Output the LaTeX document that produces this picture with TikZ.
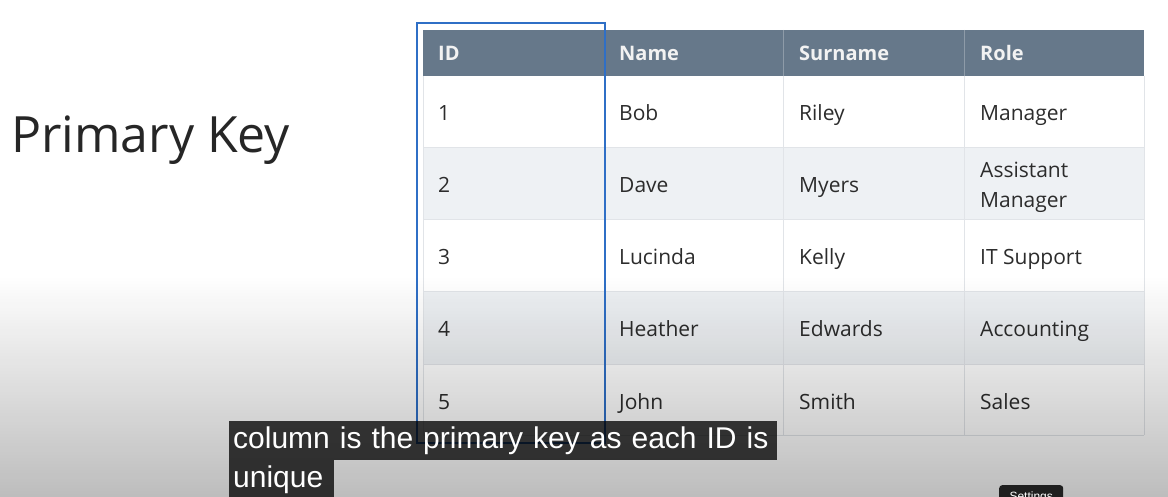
\documentclass[tikz,border=0pt]{standalone}
\usepackage{fontspec}
\setmainfont{Open Sans}
\newfontfamily\capfont{Liberation Sans}
\definecolor{headgray}{HTML}{66788A}
\definecolor{headline}{HTML}{8E9BA8}
\definecolor{stripe}{HTML}{EEF1F4}
\definecolor{gridgray}{HTML}{E1E4E8}
\definecolor{keyblue}{HTML}{2F6FC6}
\definecolor{bodytext}{HTML}{2C2C2C}
\begin{document}
\begin{tikzpicture}[x=1pt,y=-1pt]
  \tikzstyle{cell}=[anchor=base west,inner sep=0pt,text=bodytext,font=\fontsize{21}{30}\selectfont]
  \tikzstyle{head}=[cell,text=white!95!black,font=\fontsize{20}{30}\selectfont\bfseries]
  \tikzstyle{caption}=[anchor=north west,fill=black,fill opacity=.76,text opacity=1,text=white,
    inner xsep=4pt,inner ysep=0pt,minimum height=39pt,font=\capfont\fontsize{30}{32}\selectfont]
  \def\tl{423}	% table left
  \def\tr{1144}	% table right
  \def\tt{30}	% table top
  \def\hb{76}	% header bottom
  \def\tb{435}	% table bottom
  \def\rh{72}	% row height
  \clip (0,0) rectangle (1168,497);
  \fill[white] (0,0) rectangle (1168,497);

  % table body
  \fill[stripe] (\tl,148) rectangle (\tr,220);
  \fill[stripe] (\tl,292) rectangle (\tr,364);
  \fill[headgray] (\tl,\tt) rectangle (\tr,\hb);
  \foreach \y in {148,220,292,364,\tb}
    \draw[gridgray,line width=1pt] (\tl,\y) -- (\tr,\y);
  \foreach \x in {604,783,964} {
    \draw[headline,line width=1pt] (\x,\tt) -- (\x,\hb);
    \draw[gridgray,line width=1pt] (\x,\hb) -- (\x,\tb);
  }
  \draw[gridgray,line width=1pt] (\tl,\hb) -- (\tl,\tb);
  \draw[gridgray,line width=1pt] (\tr,\hb) -- (\tr,\tb);

  \node[anchor=base west,inner sep=0pt,text=black!85,font=\fontsize{50}{52}\selectfont] (title) at (11,153) {Primary Key};

  \node[head] (hid) at (438,61) {ID};
  \node[head] (hname) at (619,61) {Name};
  \node[head] (hsur) at (799,61) {Surname};
  \node[head] (hrole) at (980,61) {Role};

  \foreach \r/\nm/\sn in {1/Bob/Riley,2/Dave/Myers,3/Lucinda/Kelly,4/Heather/Edwards,5/John/Smith} {
    \node[cell] (id\r) at (438,{121+\rh*(\r-1)}) {\r};
    \node[cell] (name\r) at (619,{121+\rh*(\r-1)}) {\nm};
    \node[cell] (sur\r) at (799,{121+\rh*(\r-1)}) {\sn};
  }
  \foreach \r/\rl in {1/Manager,3/IT Support,4/Accounting,5/Sales}
    \node[cell] (role\r) at (980,{121+\rh*(\r-1)}) {\rl};
  \node[cell,anchor=west,align=left] (role2) at (980,187) {Assistant\\Manager};

  % primary key frame
  \draw[keyblue,line width=2.5pt] (417,23) rectangle (605,443);

  % player shade, in thin bands
  \foreach \i in {0,...,73}
    \fill[black,opacity={.26*(\i+.5)/74}] (0,{275+3*\i}) rectangle (1168,{278+3*\i});

  % captions
  \node[caption,text width=540pt] (line1) at (229,421) {column is the primary key as each ID is};
  \node[caption,text width=97pt] (line2) at (229,460) {unique};
  \node[anchor=north west,fill=black!88,rounded corners=3pt,text=white,inner sep=0pt,
    minimum width=64pt,minimum height=24pt,font=\capfont\fontsize{12}{12}\selectfont] (settings) at (999,485) {Settings};
\end{tikzpicture}
\end{document}
